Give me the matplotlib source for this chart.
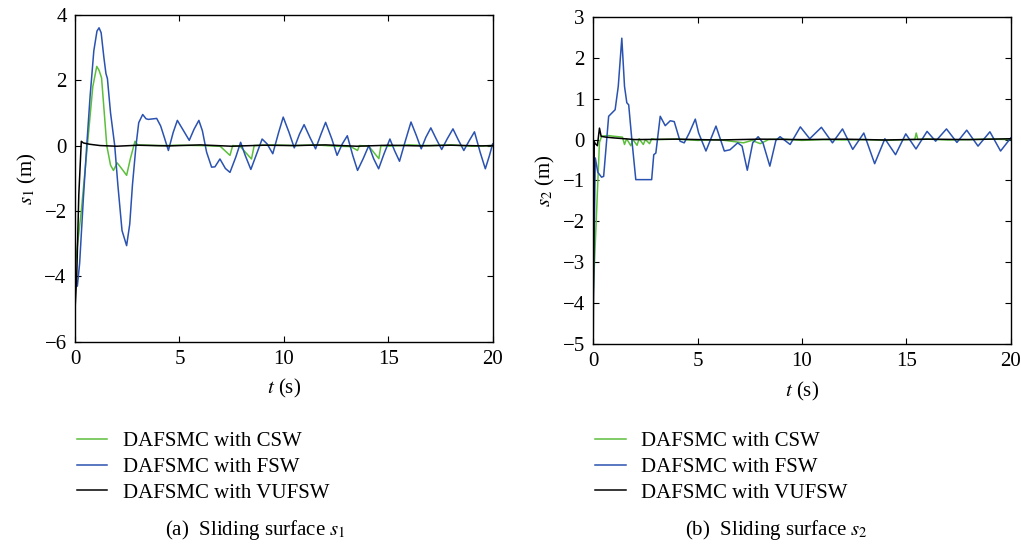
import numpy as np
import matplotlib
matplotlib.use('Agg')
import matplotlib.pyplot as plt

plt.rcParams['font.family'] = ['Liberation Serif', 'DejaVu Serif']
plt.rcParams['mathtext.fontset'] = 'stix'
plt.rcParams['axes.unicode_minus'] = True

labels = ['DAFSMC with CSW', 'DAFSMC with FSW', 'DAFSMC with VUFSW']
colors = ['#5cbf3c', '#2a52b0', '#000000']

# ---- s1 (left panel) ----
t1_fsw = [0.0, 0.11, 0.22, 0.4, 0.56, 0.72, 0.9, 1.05, 1.15, 1.25, 1.38, 1.48, 1.55,
          1.7, 1.9, 2.05, 2.25, 2.47, 2.62, 2.75, 2.92, 3.05, 3.24, 3.4, 3.51, 3.91,
          4.1, 4.3, 4.47, 4.7, 4.9, 5.2, 5.47, 5.7, 5.93, 6.1, 6.3, 6.54, 6.7, 6.94,
          7.2, 7.42, 7.7, 7.93, 8.15, 8.42, 8.7, 8.96, 9.2, 9.47, 9.75, 9.97, 10.25,
          10.5, 10.75, 10.97, 11.25, 11.52, 11.78, 12.0, 12.3, 12.55, 12.8, 13.04,
          13.3, 13.53, 13.8, 14.07, 14.3, 14.54, 14.8, 15.08, 15.3, 15.54, 15.8,
          16.09, 16.35, 16.58, 16.8, 17.04, 17.3, 17.56, 17.82, 18.1, 18.35, 18.62,
          18.88, 19.13, 19.4, 19.65, 19.85, 20.0]
s1_fsw = [-3.9, -4.3, -3.6, -1.6, 0.0, 1.5, 2.9, 3.5, 3.6, 3.45, 2.7, 2.2, 2.05, 1.0,
          0.0, -1.2, -2.6, -3.06, -2.4, -1.2, 0.0, 0.7, 0.95, 0.82, 0.8, 0.83, 0.6,
          0.2, -0.15, 0.4, 0.77, 0.45, 0.16, 0.5, 0.77, 0.45, -0.2, -0.66, -0.65,
          -0.41, -0.7, -0.82, -0.35, 0.1, -0.3, -0.73, -0.25, 0.2, 0.05, -0.25, 0.4,
          0.87, 0.4, -0.07, 0.35, 0.64, 0.25, -0.1, 0.35, 0.71, 0.2, -0.3, 0.05, 0.3,
          -0.3, -0.76, -0.4, 0.0, -0.4, -0.71, -0.25, 0.2, -0.15, -0.48, 0.1, 0.72,
          0.3, -0.1, 0.25, 0.54, 0.2, -0.12, 0.2, 0.51, 0.18, -0.15, 0.15, 0.42, -0.2,
          -0.71, -0.3, 0.05]

t1_csw = [0.0, 0.3, 0.59, 0.85, 1.04, 1.15, 1.27, 1.4, 1.52, 1.7, 1.84, 2.02, 2.25,
          2.47, 2.65, 2.87, 3.0, 4.0, 5.0, 6.0, 6.95, 7.42, 7.55, 7.9, 8.45, 8.58,
          9.5, 10.5, 11.5, 12.5, 13.2, 13.53, 13.62, 14.07, 14.55, 14.65, 15.0, 16.0,
          17.0, 18.0, 19.0, 20.0]
s1_csw = [-3.7, -2.0, 0.0, 1.8, 2.42, 2.3, 2.07, 1.0, 0.0, -0.6, -0.76, -0.53, -0.72,
          -0.91, -0.4, 0.13, 0.02, 0.0, 0.01, 0.0, -0.02, -0.3, 0.0, -0.02, -0.41, 0.0,
          0.02, 0.0, 0.02, -0.02, -0.03, -0.15, 0.0, -0.02, -0.4, 0.0, -0.02, 0.02,
          0.0, 0.02, -0.02, 0.0]

t1_vufsw = [0.0, 0.08, 0.18, 0.3, 0.4, 0.7, 1.2, 2.0, 3.0, 4.5, 6.0, 7.5, 9.0, 10.5,
            12.0, 13.5, 15.0, 16.5, 18.0, 19.5, 20.0]
s1_vufsw = [-5.0, -4.0, -1.5, 0.13, 0.08, 0.04, 0.0, -0.02, 0.01, -0.01, 0.02, -0.02,
            0.01, 0.0, 0.02, -0.02, 0.01, -0.01, 0.01, -0.01, 0.0]

# ---- s2 (right panel) ----
t2_fsw = [0.0, 0.1, 0.22, 0.4, 0.5, 0.74, 1.05, 1.2, 1.37, 1.5, 1.61, 1.7, 1.85, 2.04,
          2.2, 2.8, 2.9, 3.0, 3.21, 3.45, 3.69, 3.88, 4.16, 4.36, 4.6, 4.89, 5.05, 5.4,
          5.88, 6.28, 6.55, 6.92, 7.13, 7.38, 7.64, 7.9, 8.13, 8.46, 8.75, 8.95, 9.43,
          9.92, 10.37, 10.93, 11.46, 11.94, 12.43, 12.96, 13.48, 13.97, 14.48, 14.97,
          15.46, 15.99, 16.4, 16.92, 17.42, 17.89, 18.43, 19.0, 19.51, 20.0]
s2_fsw = [-4.1, -0.45, -0.8, -0.92, -0.9, 0.57, 0.73, 1.3, 2.48, 1.3, 0.9, 0.85, 0.0,
          -0.98, -0.98, -0.98, -0.37, -0.33, 0.57, 0.34, 0.46, 0.44, -0.04, -0.08, 0.16,
          0.5, 0.16, -0.28, 0.33, -0.28, -0.25, -0.08, -0.16, -0.75, -0.08, 0.07, -0.08,
          -0.65, -0.02, 0.07, -0.12, 0.31, 0.02, 0.3, -0.08, 0.26, -0.24, 0.16, -0.59,
          0.02, -0.37, 0.14, -0.23, 0.2, -0.04, 0.26, -0.07, 0.23, -0.16, 0.19, -0.28,
          0.04]

t2_csw = [0.0, 0.3, 0.4, 0.7, 1.0, 1.4, 1.5, 1.6, 1.8, 1.9, 2.1, 2.2, 2.4, 2.5, 2.7,
          2.8, 3.0, 4.0, 5.0, 6.0, 7.2, 7.6, 8.0, 8.4, 9.0, 10.0, 11.0, 12.0, 13.0,
          14.0, 15.0, 15.4, 15.47, 15.55, 16.0, 17.0, 18.0, 19.0, 20.0]
s2_csw = [-3.75, -0.07, 0.08, 0.1, 0.08, 0.06, -0.12, 0.02, -0.15, 0.0, -0.14, 0.02,
          -0.12, 0.0, -0.1, 0.02, 0.0, 0.01, -0.02, 0.0, -0.08, -0.02, -0.1, 0.0, 0.01,
          -0.02, 0.0, -0.01, 0.0, -0.02, 0.0, 0.0, 0.16, 0.0, 0.01, -0.01, 0.0, 0.01,
          0.0]

t2_vufsw = [0.0, 0.05, 0.1, 0.2, 0.3, 0.38, 0.6, 1.0, 2.0, 4.0, 6.0, 8.0, 10.0, 12.0,
            14.0, 16.0, 18.0, 20.0]
s2_vufsw = [-5.0, -0.05, -0.1, -0.15, 0.28, 0.08, 0.06, 0.04, 0.0, 0.01, -0.01, 0.01,
            0.0, 0.01, -0.01, 0.01, 0.0, 0.02]

panels = [
    dict(rect=[0.0735, 0.374, 0.409, 0.599], ylim=(-6, 4), yticks=[-6, -4, -2, 0, 2, 4],
         ylabel=r'$s_1$ (m)', caption=r'(a)  Sliding surface $s_1$', cap_x=0.250,
         series=[(t1_csw, s1_csw), (t1_fsw, s1_fsw), (t1_vufsw, s1_vufsw)]),
    dict(rect=[0.581, 0.370, 0.409, 0.599], ylim=(-5, 3), yticks=list(range(-5, 4)),
         ylabel=r'$s_2$ (m)', caption=r'(b)  Sliding surface $s_2$', cap_x=0.760,
         series=[(t2_csw, s2_csw), (t2_fsw, s2_fsw), (t2_vufsw, s2_vufsw)]),
]

fig = plt.figure(figsize=(10.21, 5.46), dpi=100)

for p in panels:
    ax = fig.add_axes(p['rect'])
    handles = []
    for (t, s), c, lab in zip(p['series'], colors, labels):
        h, = ax.plot(t, s, color=c, lw=1.1, label=lab)
        handles.append(h)
    ax.set_xlim(0, 20)
    ax.set_ylim(*p['ylim'])
    ax.set_xticks([0, 5, 10, 15, 20])
    ax.set_yticks(p['yticks'])
    ax.tick_params(direction='in', top=True, right=True, labelsize=15, length=4,
                   width=0.8, pad=6)
    for sp in ax.spines.values():
        sp.set_linewidth(1.0)
    ax.set_xlabel(r'$t$ (s)', fontsize=15, labelpad=6)
    ax.set_ylabel(p['ylabel'], fontsize=15, labelpad=4)

    x0 = p['rect'][0]
    fig.legend(handles=handles, loc='upper left', bbox_to_anchor=(x0 - 0.006, 0.225),
               frameon=False, fontsize=15, handlelength=1.45, handletextpad=0.75,
               labelspacing=0.3, borderaxespad=0)
    fig.text(p['cap_x'], 0.03, p['caption'], ha='center', va='center', fontsize=15)

fig.savefig('out.png', dpi=100)
